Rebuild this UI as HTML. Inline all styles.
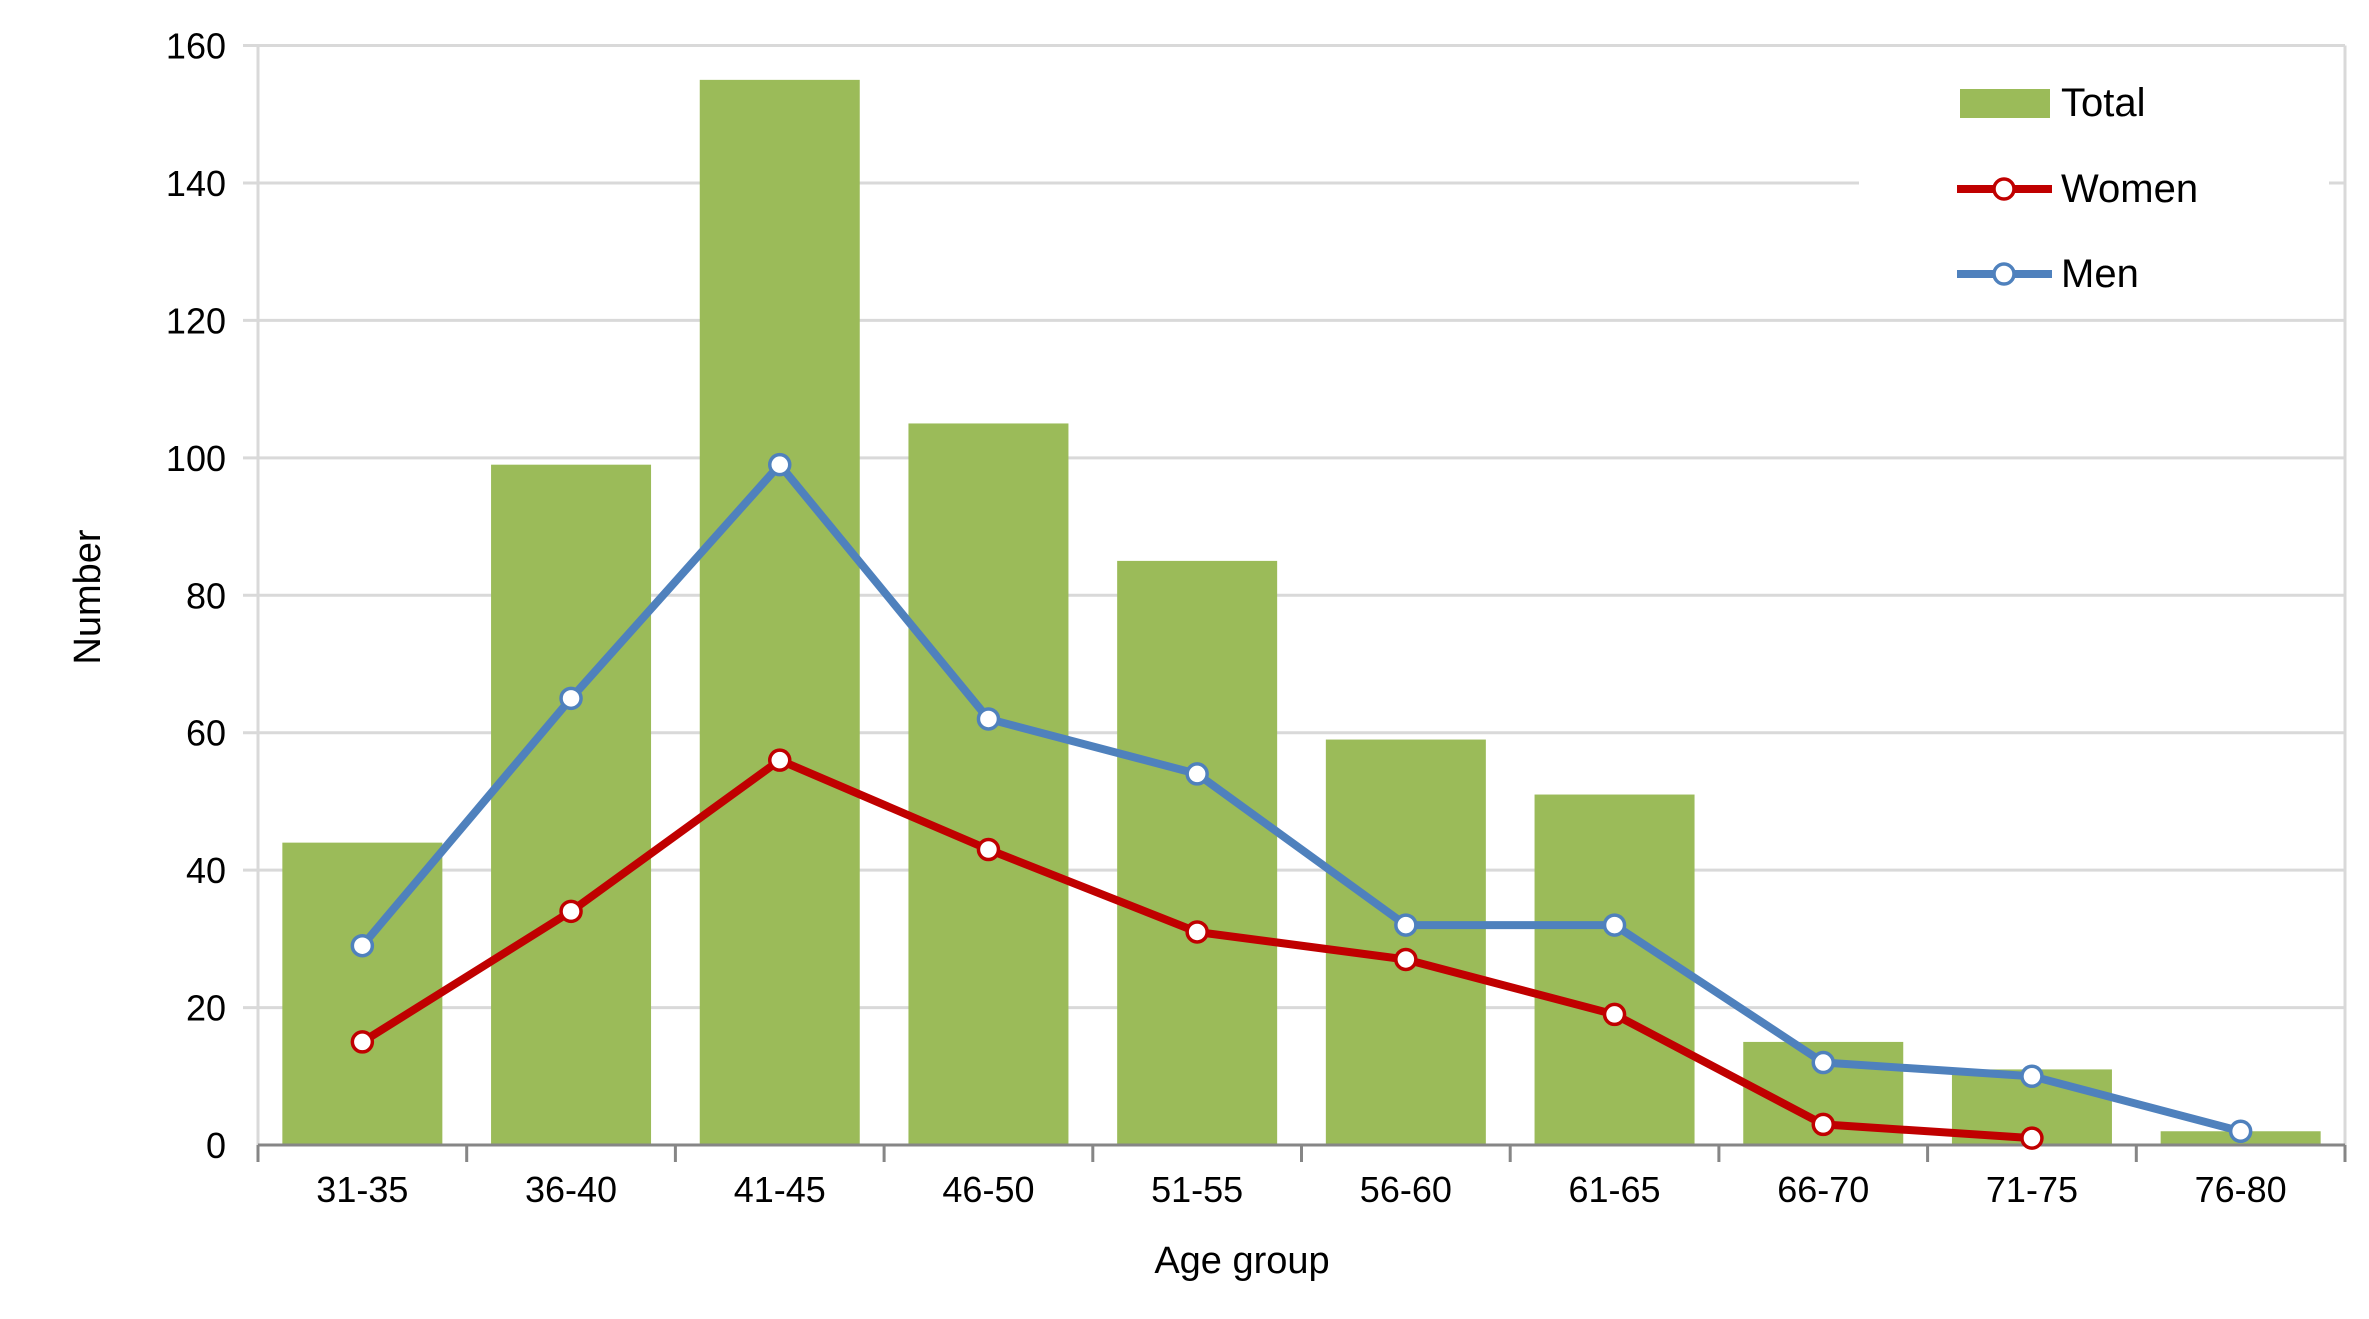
<!DOCTYPE html>
<html><head><meta charset="utf-8"><style>
html,body{margin:0;padding:0;background:#fff;}
svg{display:block;font-family:"Liberation Sans",sans-serif;}
</style></head><body>
<svg id="chart" width="2369" height="1319" viewBox="0 0 2369 1319">
<g id="grid"></g>
<g id="bars"></g>
<g id="axes"></g>
<g id="lines"></g>
<text x="1242" y="1273" font-size="38" text-anchor="middle" fill="#000">Age group</text>
<text transform="translate(100,597) rotate(-90)" font-size="38" text-anchor="middle" fill="#000">Number</text>
<g>
<rect x="1859" y="60" width="470" height="240" fill="#fff"/>
<g>
<rect x="1960" y="89" width="90" height="29" fill="#9bbb59"/>
<text x="2061" y="116" font-size="40" fill="#000">Total</text></g>
<g>
<line x1="1957" y1="189" x2="2052" y2="189" stroke="#c00000" stroke-width="8"/>
<circle cx="2004" cy="189" r="10" fill="#fff" stroke="#c00000" stroke-width="3.5"/>
<text x="2061" y="202" font-size="40" fill="#000">Women</text></g>
<g>
<line x1="1957" y1="274" x2="2052" y2="274" stroke="#4f81bd" stroke-width="8"/>
<circle cx="2004" cy="274" r="10" fill="#fff" stroke="#4f81bd" stroke-width="3.5"/>
<text x="2061" y="287" font-size="40" fill="#000">Men</text></g>
</g>
</svg>
<script>
const categories=["31-35","36-40","41-45","46-50","51-55","56-60","61-65","66-70","71-75","76-80"];
const totalValues=[44,99,155,105,85,59,51,15,11,2];
const womenValues=[15,34,56,43,31,27,19,3,1,null];
const menValues=[29,65,99,62,54,32,32,12,10,2];
const yTicks=[0,20,40,60,80,100,120,140,160];

const NS="http://www.w3.org/2000/svg";
const L=258,R=2345,T=45.5,B=1145,YMAX=160;
const band=(R-L)/categories.length;
const xc=i=>L+band*(i+0.5);
const y=v=>B-(v/YMAX)*(B-T);
function mk(tag,attrs,parent){const e=document.createElementNS(NS,tag);for(const k in attrs)e.setAttribute(k,attrs[k]);parent.appendChild(e);return e;}
const grid=document.getElementById('grid'),bars=document.getElementById('bars'),axes=document.getElementById('axes'),lines=document.getElementById('lines');
yTicks.forEach(t=>{
  if(t>0){const g=mk('line',{x1:L-15,x2:R,y1:y(t),y2:y(t),stroke:'#d9d9d9','stroke-width':3},grid);
  
  }
  const tx=mk('text',{x:L-32,y:y(t)+13,'font-size':36,'text-anchor':'end',fill:'#000'},axes);
  tx.textContent=t;
  
  
});
mk('line',{x1:L,x2:L,y1:T,y2:B,stroke:'#d9d9d9','stroke-width':3},grid);
mk('line',{x1:R,x2:R,y1:T,y2:B,stroke:'#d9d9d9','stroke-width':3},grid);
const bw=160;
totalValues.forEach((v,i)=>{
  const r=mk('rect',{x:xc(i)-bw/2,y:y(v),width:bw,height:B-y(v),fill:'#9bbb59'},bars);
  
  
});
mk('line',{x1:L,x2:R,y1:B,y2:B,stroke:'#868686','stroke-width':3},axes);
for(let i=0;i<=categories.length;i++){mk('line',{x1:L+band*i,x2:L+band*i,y1:B,y2:B+17,stroke:'#868686','stroke-width':3},axes);}
categories.forEach((c,i)=>{
  const t=mk('text',{x:xc(i),y:B+57,'font-size':36,'text-anchor':'middle',fill:'#000'},axes);
  t.textContent=c;
  
  
});
function series(vals,color,name){
  const pts=[];vals.forEach((v,i)=>{if(v!==null)pts.push([xc(i),y(v)]);});
  const p=mk('polyline',{points:pts.map(p=>p.join(',')).join(' '),fill:'none',stroke:color,'stroke-width':8,'stroke-linejoin':'round'},lines);
  
  
  pts.forEach((q,k)=>{const c=mk('circle',{cx:q[0],cy:q[1],r:10,fill:'#fff',stroke:color,'stroke-width':3.5},lines);
  
  });
}
series(womenValues,'#c00000','women');
series(menValues,'#4f81bd','men');
</script>
</body></html>
